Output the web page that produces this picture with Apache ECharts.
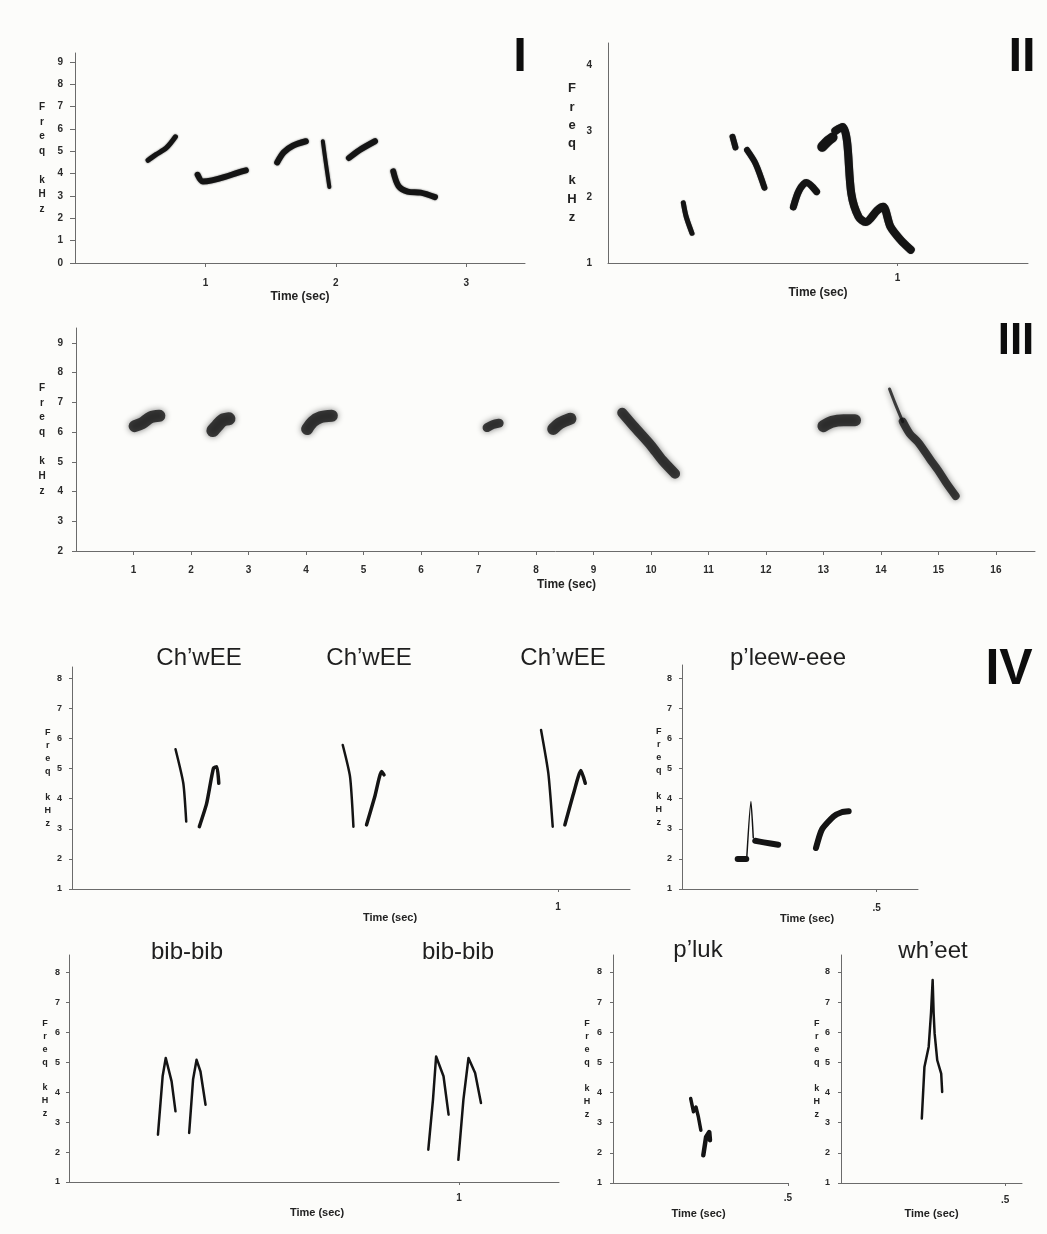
<!DOCTYPE html>
<html>
<head>
<meta charset="utf-8">
<script src="https://cdn.jsdelivr.net/npm/echarts@6/dist/echarts.min.js"></script>
<style>
  html, body { margin: 0; padding: 0; background: #fcfcfa; }
  #chart { width: 1047px; height: 1234px; }
</style>
</head>
<body>
<div id="chart"></div>
<script>
// ---- Tick values and labels ----
const timeTicksI = [1, 2, 3];
const freqTicksI = [0, 1, 2, 3, 4, 5, 6, 7, 8, 9];
const timeTicksII = [1];
const freqTicksII = [1, 2, 3, 4];
const timeTicksIII = [1, 2, 3, 4, 5, 6, 7, 8, 9, 10, 11, 12, 13, 14, 15, 16];
const freqTicksIII = [2, 3, 4, 5, 6, 7, 8, 9];
const freqTicksIV = [1, 2, 3, 4, 5, 6, 7, 8];
const oneSecondTick = [1];
const halfSecondTick = [0.5];
const halfSecondLabel = ['.5'];

// ---- Panel labels and call names ----
const panelNames = ['I', 'II', 'III', 'IV'];
const chweeNames = ['Ch’wEE', 'Ch’wEE', 'Ch’wEE'];
const pleewName = 'p’leew-eee';
const bibNames = ['bib-bib', 'bib-bib'];
const plukName = 'p’luk';
const wheetName = 'wh’eet';

// ---- Traces: [time s, frequency kHz] along each syllable ----
const songISyllables = [
  [[0.56, 4.6], [0.62, 4.85], [0.70, 5.15], [0.77, 5.65]],
  [[0.94, 3.95], [0.98, 3.65], [1.05, 3.7], [1.15, 3.85], [1.25, 4.05], [1.31, 4.15]],
  [[1.55, 4.5], [1.60, 4.95], [1.67, 5.25], [1.77, 5.45]],
  [[1.90, 5.45], [1.92, 4.6], [1.95, 3.4]],
  [[2.10, 4.7], [2.18, 5.05], [2.30, 5.45]],
  [[2.44, 4.1], [2.48, 3.45], [2.55, 3.2], [2.65, 3.15], [2.76, 2.95]]
];

const songIISyllables = [
  [[0.26, 1.91], [0.27, 1.70], [0.29, 1.45]],
  [[0.43, 2.91], [0.44, 2.75]],
  [[0.48, 2.71], [0.51, 2.50], [0.54, 2.14]],
  [[0.64, 1.85], [0.66, 2.10], [0.685, 2.22], [0.72, 2.08]],
  [[0.74, 2.76], [0.76, 2.85], [0.775, 2.9]],
  [[0.785, 3.0], [0.81, 3.06], [0.825, 2.85], [0.84, 2.05], [0.865, 1.70], [0.89, 1.62],
   [0.93, 1.80], [0.95, 1.85], [0.975, 1.55], [1.01, 1.35], [1.045, 1.20]]
];

const songIIISyllables = [
  [[1.02, 6.2], [1.15, 6.3], [1.30, 6.5], [1.45, 6.55]],
  [[2.38, 6.05], [2.45, 6.2], [2.55, 6.4], [2.66, 6.45]],
  [[4.02, 6.1], [4.12, 6.35], [4.25, 6.5], [4.45, 6.55]],
  [[7.15, 6.15], [7.25, 6.25], [7.36, 6.3]],
  [[8.30, 6.1], [8.42, 6.3], [8.60, 6.45]],
  [[9.50, 6.65], [9.70, 6.2], [10.0, 5.55], [10.2, 5.05], [10.42, 4.6]],
  [[13.0, 6.2], [13.15, 6.35], [13.35, 6.4], [13.55, 6.4]],
  [[14.15, 7.45], [14.25, 6.95], [14.38, 6.35]],
  [[14.38, 6.35], [14.50, 5.95], [14.65, 5.65], [14.85, 5.1], [15.0, 4.7], [15.15, 4.25], [15.3, 3.85]]
];

const chweeSyllables = [
  [[0.213, 5.64], [0.229, 4.51], [0.235, 3.24]],
  [[0.262, 3.07], [0.277, 3.84], [0.291, 5.01], [0.298, 5.06], [0.302, 4.51]],
  [[0.557, 5.78], [0.572, 4.73], [0.579, 3.07]],
  [[0.606, 3.13], [0.623, 4.07], [0.637, 4.90], [0.642, 4.79]],
  [[0.965, 6.28], [0.980, 4.84], [0.989, 3.07]],
  [[1.014, 3.13], [1.032, 4.18], [1.047, 4.93], [1.056, 4.51]]
];

const pleewSyllables = [
  [[0.143, 2.0], [0.165, 2.0]],
  [[0.166, 1.97], [0.177, 3.91], [0.183, 2.7]],
  [[0.188, 2.6], [0.21, 2.55], [0.247, 2.47]],
  [[0.344, 2.36], [0.359, 2.97], [0.389, 3.41], [0.41, 3.55], [0.428, 3.58]]
];

const bibSyllables = [
  [[0.228, 2.58], [0.240, 4.53], [0.248, 5.14], [0.263, 4.36], [0.273, 3.36]],
  [[0.308, 2.64], [0.318, 4.42], [0.327, 5.08], [0.337, 4.69], [0.350, 3.58]],
  [[0.921, 2.08], [0.933, 3.75], [0.941, 5.19], [0.960, 4.53], [0.973, 3.25]],
  [[0.998, 1.74], [1.011, 3.75], [1.024, 5.14], [1.041, 4.64], [1.056, 3.64]]
];

const plukSyllables = [
  [[0.222, 3.80], [0.230, 3.36], [0.237, 3.52], [0.244, 3.19], [0.249, 3.25], [0.251, 2.75]],
  [[0.258, 1.92], [0.266, 2.53], [0.275, 2.69], [0.277, 2.42]]
];

const wheetSyllables = [
  [[0.246, 3.14], [0.254, 4.85], [0.267, 5.52], [0.274, 6.63], [0.279, 7.73],
   [0.282, 6.63], [0.285, 5.96], [0.293, 5.07], [0.305, 4.63], [0.308, 4.02]]
];

// ---- Styling ----
const INK = '#141414';
const AXIS = '#6b6b6b';
const LABEL = '#2b2b2b';
const SANS = 'Liberation Sans, Arial, sans-serif';
const FREQ_NAME = 'F\nr\ne\nq\n\nk\nH\nz';

// Layout of each spectrogram frame
const panels = [
  { grid: { left: 75, top: 53, width: 450, height: 210 },
    x: { min: 0, max: 3.45, ticks: timeTicksI, margin: 15, font: 10, gap: 28, nameFont: 12, tick: 4 },
    y: { min: 0, max: 9.4, ticks: freqTicksI, margin: 12, font: 10, gap: 33, lh: 14.5, lift: 6, nameFont: 10, tick: 5 },
    traces: songISyllables, widths: [5, 6, 6, 4, 6, 6], smooth: 0.3, blur: 2 },
  { grid: { left: 608, top: 43, width: 420, height: 220 },
    x: { min: 0, max: 1.45, ticks: timeTicksII, margin: 10, font: 10, gap: 24, nameFont: 12, tick: 3 },
    y: { min: 1, max: 4.33, ticks: freqTicksII, margin: 16, font: 10, gap: 36, lh: 18.4, lift: -4, nameFont: 13, tick: 0 },
    traces: songIISyllables, widths: [5, 6, 6, 7, 10, 8], smooth: 0.3, blur: 1 },
  { grid: { left: 76, top: 328, width: 959, height: 223 },
    x: { min: 0, max: 16.68, ticks: timeTicksIII, margin: 14, font: 10, gap: 28, nameFont: 12, tick: 4, shift: 11 },
    y: { min: 2, max: 9.5, ticks: freqTicksIII, margin: 13, font: 10, gap: 34, lh: 14.7, lift: 8, nameFont: 10, tick: 4 },
    traces: songIIISyllables, widths: [12, 13, 12, 9, 12, 10, 12, 3, 8], smooth: 0.3, blur: 6, fade: 0.8 },
  { grid: { left: 72, top: 667, width: 558, height: 222 },
    x: { min: 0, max: 1.148, ticks: oneSecondTick, margin: 13, font: 10, gap: 23, nameFont: 11, tick: 3, shift: 39 },
    y: { min: 1, max: 8.37, ticks: freqTicksIV, margin: 10, font: 9, gap: 24, lh: 12.9, lift: 10, nameFont: 9, tick: 3 },
    traces: chweeSyllables, widths: [2.5, 3.5, 2.5, 3.5, 2.5, 3.5], smooth: 0.2, blur: 0 },
  { grid: { left: 682, top: 665, width: 236, height: 224 },
    x: { min: 0, max: 0.606, ticks: halfSecondTick, text: halfSecondLabel, margin: 14, font: 10, gap: 23, nameFont: 11, tick: 3, shift: 7 },
    y: { min: 1, max: 8.44, ticks: freqTicksIV, margin: 10, font: 9, gap: 23, lh: 12.9, lift: 10, nameFont: 9, tick: 3 },
    traces: pleewSyllables, widths: [6, 1.5, 6, 6], smooth: 0.2, blur: 0 },
  { grid: { left: 69, top: 955, width: 490, height: 227 },
    x: { min: 0, max: 1.256, ticks: oneSecondTick, margin: 11, font: 10, gap: 25, nameFont: 11, tick: 3, shift: 3 },
    y: { min: 1, max: 8.58, ticks: freqTicksIV, margin: 9, font: 9, gap: 24, lh: 12.9, lift: 6, nameFont: 9, tick: 3 },
    traces: bibSyllables, widths: [2.5, 2.5, 2.5, 2.5], smooth: 0, blur: 0 },
  { grid: { left: 613, top: 955, width: 175, height: 228 },
    x: { min: 0, max: 0.5, ticks: halfSecondTick, text: halfSecondLabel, margin: 10, font: 10, gap: 25, nameFont: 11, tick: 3, shift: -2 },
    y: { min: 1, max: 8.56, ticks: freqTicksIV, margin: 11, font: 9, gap: 26, lh: 12.9, lift: 6, nameFont: 9, tick: 3 },
    traces: plukSyllables, widths: [3.5, 4.5], smooth: 0, blur: 0 },
  { grid: { left: 841, top: 955, width: 181, height: 228 },
    x: { min: 0, max: 0.551, ticks: halfSecondTick, text: halfSecondLabel, margin: 12, font: 10, gap: 25, nameFont: 11, tick: 3, shift: 0 },
    y: { min: 1, max: 8.56, ticks: freqTicksIV, margin: 11, font: 9, gap: 24, lh: 12.9, lift: 6, nameFont: 9, tick: 3 },
    traces: wheetSyllables, widths: [2.5], smooth: 0, blur: 0 }
];

const grids = [], xAxes = [], yAxes = [], series = [];

panels.forEach((p, i) => {
  grids.push(Object.assign({ containLabel: false }, p.grid));

  const xs = p.x.shift || 0;
  xAxes.push({
    gridIndex: i, type: 'value', min: p.x.min, max: p.x.max,
    axisLine: { show: true, onZero: false, lineStyle: { color: AXIS, width: 1 } },
    axisTick: { show: true, length: p.x.tick, customValues: p.x.ticks, lineStyle: { color: AXIS } },
    axisLabel: {
      customValues: p.x.ticks, margin: p.x.margin, fontSize: p.x.font, fontWeight: 'bold',
      color: LABEL, fontFamily: SANS,
      formatter: v => p.x.text ? p.x.text[p.x.ticks.indexOf(v)] : String(v)
    },
    splitLine: { show: false },
    name: 'Time (sec)', nameLocation: 'middle', nameGap: p.x.gap,
    nameTextStyle: {
      fontSize: p.x.nameFont, fontWeight: 'bold', color: '#222', fontFamily: SANS,
      padding: xs >= 0 ? [0, 0, 0, 2 * xs] : [0, -2 * xs, 0, 0]
    }
  });

  const lift = p.y.lift || 0;
  yAxes.push({
    gridIndex: i, type: 'value', min: p.y.min, max: p.y.max,
    axisLine: { show: true, onZero: false, lineStyle: { color: AXIS, width: 1 } },
    axisTick: { show: p.y.tick > 0, length: p.y.tick, customValues: p.y.ticks, lineStyle: { color: AXIS } },
    axisLabel: {
      customValues: p.y.ticks, margin: p.y.margin, fontSize: p.y.font, fontWeight: 'bold',
      color: LABEL, fontFamily: SANS
    },
    splitLine: { show: false },
    name: FREQ_NAME, nameLocation: 'middle', nameRotate: 0, nameGap: p.y.gap,
    nameTextStyle: {
      fontSize: p.y.nameFont, fontWeight: 'bold', color: '#222', fontFamily: SANS,
      lineHeight: p.y.lh, align: 'center', verticalAlign: 'middle',
      padding: lift >= 0 ? [0, 0, 2 * lift, 0] : [-2 * lift, 0, 0, 0]
    }
  });

  p.traces.forEach((pts, k) => {
    series.push({
      type: 'line', xAxisIndex: i, yAxisIndex: i, data: pts,
      showSymbol: false, symbol: 'none', smooth: p.smooth, silent: true, clip: false,
      lineStyle: {
        color: INK, width: p.widths[k], cap: 'round', join: 'round',
        opacity: p.fade || 1,
        shadowBlur: p.blur, shadowColor: 'rgba(0,0,0,0.6)'
      },
      z: 3
    });
  });
});

// Call names above the panel IV frames, and the Roman panel labels
const titleStyle = { fontFamily: SANS, fontSize: 24, fontWeight: 'normal', color: '#1e1e1e', lineHeight: 24 };
const heavyStyle = size => ({ fontFamily: SANS, fontSize: size, fontWeight: 'bold', color: '#0d0d0d', lineHeight: size });

const titles = [
  { text: panelNames[0], left: 520, top: 57.5 - 24.5, textAlign: 'center', padding: 0, textStyle: heavyStyle(49) },
  { text: panelNames[1], left: 1022, top: 57.5 - 24.5, textAlign: 'center', padding: 0, textStyle: heavyStyle(49) },
  { text: panelNames[2], left: 1016, top: 342 - 22, textAlign: 'center', padding: 0, textStyle: heavyStyle(44) },
  { text: panelNames[3], left: 1009, top: 670 - 25, textAlign: 'center', padding: 0, textStyle: heavyStyle(50) }
];
[199, 369, 563].forEach((cx, k) => titles.push({ text: chweeNames[k], left: cx, top: 646, textAlign: 'center', padding: 0, textStyle: titleStyle }));
titles.push({ text: pleewName, left: 788, top: 646, textAlign: 'center', padding: 0, textStyle: titleStyle });
[187, 458].forEach((cx, k) => titles.push({ text: bibNames[k], left: cx, top: 940, textAlign: 'center', padding: 0, textStyle: titleStyle }));
titles.push({ text: plukName, left: 698, top: 938, textAlign: 'center', padding: 0, textStyle: titleStyle });
titles.push({ text: wheetName, left: 933, top: 939, textAlign: 'center', padding: 0, textStyle: titleStyle });

const chart = echarts.init(document.getElementById('chart'), null, { renderer: 'canvas' });
chart.setOption({
  backgroundColor: '#fcfcfa',
  animation: false,
  title: titles,
  grid: grids,
  xAxis: xAxes,
  yAxis: yAxes,
  series: series
});
</script>
</body>
</html>
